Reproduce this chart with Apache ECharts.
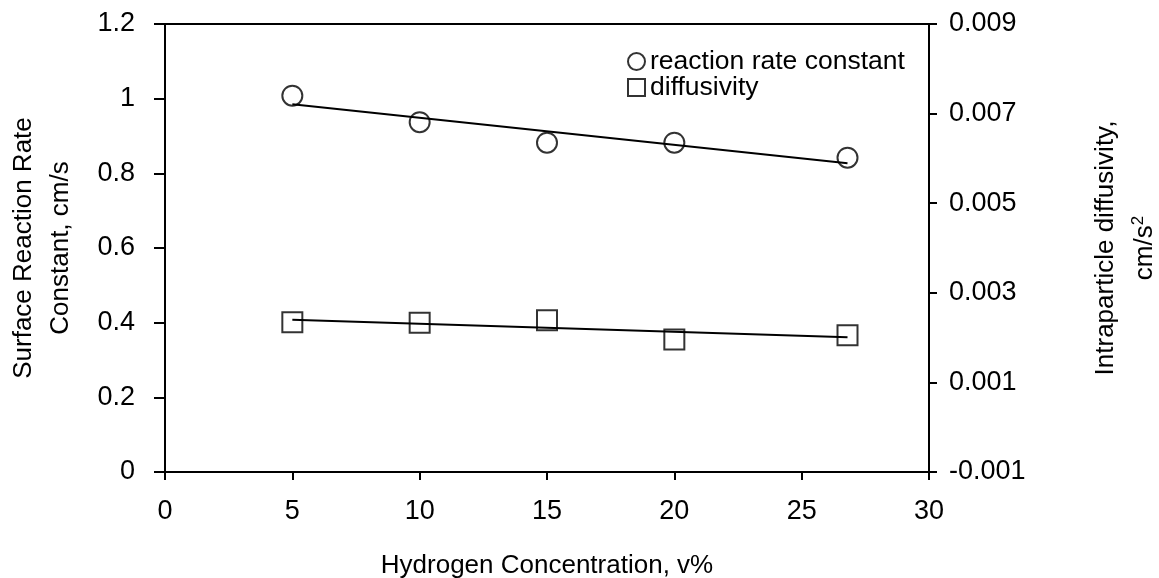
<!DOCTYPE html>
<html>
<head>
<meta charset="utf-8">
<script src="https://cdn.jsdelivr.net/npm/echarts@6/dist/echarts.min.js"></script>
<style>
html,body{margin:0;padding:0;background:#fff;}
#chart{width:1159px;height:578px;}
</style>
</head>
<body>
<div id="chart"></div>
<script>
// Data
const hydrogen = [5, 10, 15, 20, 26.8];                       // v%
const rateConstant = [1.008, 0.937, 0.882, 0.882, 0.842];      // cm/s (left axis)
const diffusivity = [0.00234, 0.00233, 0.00239, 0.00196, 0.00205]; // cm^2/s (right axis)
const rateTrendX = [5, 26.8];
const rateTrendY = [0.985, 0.827];
const diffTrendX = [5, 26.8];
const diffTrendY = [0.00240, 0.00201];
const xTicks = [0, 5, 10, 15, 20, 25, 30];
const leftTicks = [0, 0.2, 0.4, 0.6, 0.8, 1, 1.2];
const rightTicks = [-0.001, 0.001, 0.003, 0.005, 0.007, 0.009];

const FONT = '"Liberation Sans", Arial, sans-serif';
const black = '#000';

const zip = (a, b) => a.map((v, i) => [v, b[i]]);

const axisCommon = {
  axisLine: { show: true, onZero: false, lineStyle: { color: black, width: 2 } },
  axisTick: { show: true, inside: false, lineStyle: { color: black, width: 2 } },
  splitLine: { show: false },
  axisLabel: { color: black, fontSize: 27, fontFamily: FONT },
  nameTextStyle: { color: black, fontSize: 26, fontFamily: FONT }
};

const chart = echarts.init(document.getElementById('chart'), null, { renderer: 'canvas' });
chart.setOption({
  animation: false,
  backgroundColor: '#fff',
  grid: {
    left: 165, right: 230, top: 24, bottom: 106,
    containLabel: false, outerBoundsMode: 'none',
    show: true, borderColor: black, borderWidth: 2, backgroundColor: 'transparent'
  },
  legend: {
    orient: 'vertical',
    left: 627,
    top: 48,
    padding: 0,
    itemWidth: 17,
    itemHeight: 17,
    itemGap: -1,
    textStyle: { color: black, fontSize: 26.5, fontFamily: FONT, padding: [0, 0, 0, 0] },
    data: [
      { name: 'reaction rate constant', icon: 'circle', itemStyle: { color: 'transparent', borderColor: black, borderWidth: 2 } },
      { name: 'diffusivity', icon: 'rect', itemStyle: { color: 'transparent', borderColor: black, borderWidth: 2 } }
    ]
  },
  xAxis: {
    type: 'value', min: xTicks[0], max: xTicks[xTicks.length - 1], interval: 5,
    ...axisCommon,
    axisTick: { ...axisCommon.axisTick, length: 8 },
    axisLabel: { ...axisCommon.axisLabel, margin: 26, formatter: v => String(v) },
    name: 'Hydrogen Concentration, v%', nameLocation: 'middle', nameGap: 81
  },
  yAxis: [
    {
      type: 'value', position: 'left', min: leftTicks[0], max: leftTicks[leftTicks.length - 1], interval: 0.2,
      ...axisCommon,
      axisTick: { ...axisCommon.axisTick, length: 11 },
      axisLabel: { ...axisCommon.axisLabel, margin: 30, formatter: v => String(+v.toFixed(1)) },
      name: 'Surface Reaction Rate\nConstant, cm/s', nameLocation: 'middle', nameGap: 86, nameRotate: 90,
      nameTextStyle: { ...axisCommon.nameTextStyle, lineHeight: 37 }
    },
    {
      type: 'value', position: 'right', min: rightTicks[0], max: rightTicks[rightTicks.length - 1], interval: 0.002,
      ...axisCommon,
      axisTick: { ...axisCommon.axisTick, length: 8 },
      axisLabel: { ...axisCommon.axisLabel, margin: 20, formatter: v => v.toFixed(3) },
      name: '{t|Intraparticle diffusivity,}\n{t|cm/s}{sup|2}', nameLocation: 'middle', nameGap: 157, nameRotate: 90,
      nameTextStyle: {
        ...axisCommon.nameTextStyle,
        rich: {
          t: { fontSize: 26, fontFamily: FONT, color: black, lineHeight: 39 },
          sup: { fontSize: 17, fontFamily: FONT, color: black, lineHeight: 39, verticalAlign: 'top', padding: [5, 0, 0, 0] }
        }
      }
    }
  ],
  series: [
    {
      name: 'reaction rate constant', type: 'scatter', yAxisIndex: 0,
      data: zip(hydrogen, rateConstant),
      symbol: 'circle', symbolSize: 20, z: 3,
      itemStyle: { color: 'transparent', borderColor: black, borderWidth: 2 }
    },
    {
      name: 'diffusivity', type: 'scatter', yAxisIndex: 1,
      data: zip(hydrogen, diffusivity),
      symbol: 'rect', symbolSize: 20, z: 3,
      itemStyle: { color: 'transparent', borderColor: black, borderWidth: 2 }
    },
    {
      name: 'rate trend', type: 'line', yAxisIndex: 0,
      data: zip(rateTrendX, rateTrendY),
      symbol: 'none', lineStyle: { color: black, width: 2 }, z: 2
    },
    {
      name: 'diffusivity trend', type: 'line', yAxisIndex: 1,
      data: zip(diffTrendX, diffTrendY),
      symbol: 'none', lineStyle: { color: black, width: 2 }, z: 2
    }
  ]
});
</script>
</body>
</html>
